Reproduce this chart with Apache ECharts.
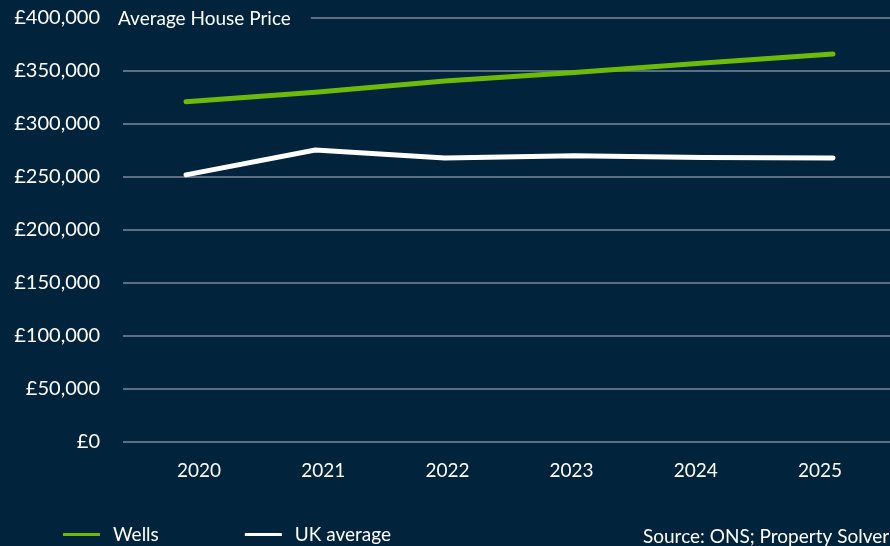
<!DOCTYPE html>
<html>
<head>
<meta charset="utf-8">
<script src="https://cdn.jsdelivr.net/npm/echarts@6/dist/echarts.min.js"></script>
<style>
  html, body { margin: 0; padding: 0; background: #01233b; }
  #chart { width: 890px; height: 546px; }
</style>
</head>
<body>
<div id="chart"></div>
<script>
// data
var years = ['2020', '2021', '2022', '2023', '2024', '2025'];
var wells = [321000, 330000, 340500, 348500, 357500, 366000];
var ukAverage = [252000, 275500, 268000, 270000, 268500, 268000];

var bg = '#01233b';
var font = 'Lato';

var chart = echarts.init(document.getElementById('chart'));

chart.setOption({
  backgroundColor: bg,
  animation: false,
  textStyle: { fontFamily: font },
  title: {
    text: 'Average House Price',
    left: 114,
    top: 7,
    padding: [2, 20, 2, 4],
    backgroundColor: bg,
    textStyle: { color: '#ffffff', fontSize: 19, fontWeight: 'normal', fontFamily: font }
  },
  legend: {
    left: 63,
    top: 525,
    padding: 0,
    itemWidth: 37,
    itemHeight: 3,
    itemGap: 86,
    icon: 'rect',
    textStyle: { color: '#ffffff', fontSize: 19, fontFamily: font, padding: [0, 0, 0, 8] },
    data: ['Wells', 'UK average']
  },
  graphic: [{
    type: 'text',
    left: 643,
    top: 527,
    style: { text: 'Source: ONS; Property Solver', fill: '#ffffff', font: '19px Lato' }
  }],
  // 0: gridlines + y labels, 1: lines, 2: year labels
  grid: [
    { left: 123, right: 0, top: 18, bottom: 104 },
    { left: 186, right: 57, top: 18, bottom: 104 },
    { left: 137, right: 8, top: 18, bottom: 104 }
  ],
  xAxis: [{
    type: 'category',
    gridIndex: 0,
    data: years,
    show: false
  }, {
    type: 'category',
    gridIndex: 1,
    data: years,
    boundaryGap: false,
    show: false
  }, {
    type: 'category',
    gridIndex: 2,
    data: years,
    boundaryGap: true,
    axisLine: { show: false },
    axisTick: { show: false },
    axisLabel: { color: '#ffffff', fontSize: 19, margin: 19, fontFamily: font }
  }],
  yAxis: [{
    type: 'value',
    gridIndex: 0,
    min: 0,
    max: 400000,
    interval: 50000,
    axisLine: { show: false },
    axisTick: { show: false },
    splitLine: { lineStyle: { color: '#5a6f82', width: 2 } },
    axisLabel: {
      color: '#ffffff',
      fontSize: 20,
      margin: 23,
      fontFamily: font,
      formatter: function (v) { return '£' + v.toLocaleString('en-GB'); }
    }
  }, {
    type: 'value',
    gridIndex: 1,
    min: 0,
    max: 400000,
    show: false
  }, {
    type: 'value',
    gridIndex: 2,
    min: 0,
    max: 400000,
    show: false
  }],
  series: [{
    name: 'Wells',
    type: 'line',
    data: wells,
    xAxisIndex: 1,
    yAxisIndex: 1,
    symbol: 'none',
    itemStyle: { color: '#6cba0a' },
    lineStyle: { color: '#6cba0a', width: 5, cap: 'round', join: 'round' }
  }, {
    name: 'UK average',
    type: 'line',
    data: ukAverage,
    xAxisIndex: 1,
    yAxisIndex: 1,
    symbol: 'none',
    itemStyle: { color: '#ffffff' },
    lineStyle: { color: '#ffffff', width: 5, cap: 'round', join: 'round' }
  }]
});
</script>
</body>
</html>
